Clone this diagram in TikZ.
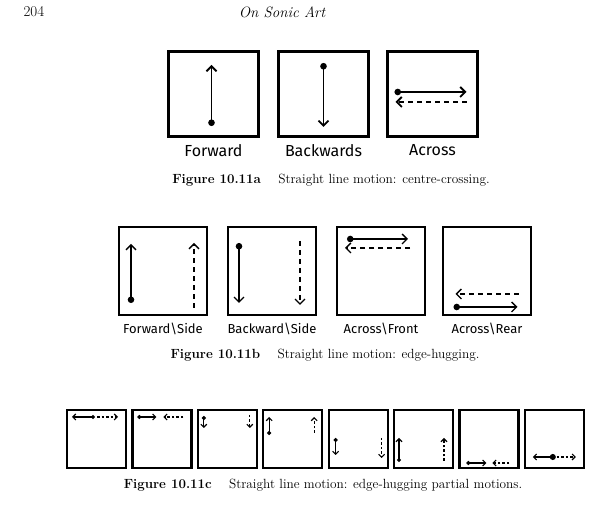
\documentclass[tikz,border=0pt]{standalone}
\usepackage{fontspec}
\newfontfamily\handfont{Fira Sans}
\usetikzlibrary{positioning, arrows.meta, calc}

\begin{document}
\begin{tikzpicture}[x=1pt, y=1pt, font=\fontsize{13.3}{15}\selectfont,
    bigbox/.style={draw, line width=2.8pt, minimum width=90pt, minimum height=85pt,
                   inner sep=0pt, outer sep=0pt},
    sidebox/.style={draw, line width=2pt, minimum width=88pt, minimum height=88pt,
                    inner sep=0pt, outer sep=0pt},
    smallbox/.style={draw, line width=2.2pt, minimum width=59pt, minimum height=58pt,
                     inner sep=0pt, outer sep=0pt},
    hand/.style={font=\handfont\fontsize{13}{15}\selectfont, inner sep=0pt},
    dotmv/.style={line width=1.8pt, arrows={Circle[length=6.5pt]-Straight Barb[length=5pt, width=10pt]}},
    backmv/.style={line width=1.8pt, dash pattern=on 5pt off 4pt, -{Straight Barb[length=5pt, width=10pt]}},
    sdotmv/.style={line width=1.1pt, arrows={Circle[length=4pt]-Straight Barb[length=3pt, width=6pt]}},
    sbackmv/.style={line width=1.1pt, dash pattern=on 2.5pt off 2pt, -{Straight Barb[length=3pt, width=6pt]}}]
  \useasboundingbox (0,0) rectangle (614,505);

  % running head
  \node[anchor=west, font=\fontsize{15}{17}\selectfont] (page) at (20,493) {204};
  \node[font=\fontsize{15}{17}\selectfont\itshape] (title) at (282,493) {On Sonic Art};

  % 10.11a
  \node[bigbox] (fa) at (213.5,411) {};
  \node[bigbox, right=20pt of fa] (fb) {};
  \node[bigbox, right=19pt of fb] (fc) {};
  \draw[dotmv] ([shift={(-2,-32)}]fa.center) -- ([shift={(-2,29)}]fa.center);
  \draw[dotmv] ([shift={(0,31)}]fb.center) -- ([shift={(0,-33)}]fb.center);
  \draw[dotmv] ([shift={(-38,2)}]fc.center) -- ([shift={(34,2)}]fc.center);
  \draw[backmv] ([shift={(34,-8)}]fc.center) -- ([shift={(-37,-8)}]fc.center);
  \node[hand, below=8pt of fa, font=\handfont\fontsize{16}{18}\selectfont] (la) {Forward};
  \node[hand, below=8pt of fb, font=\handfont\fontsize{16}{18}\selectfont] (lb) {Backwards};
  \node[hand, below=8pt of fc, font=\handfont\fontsize{16}{18}\selectfont] (lc) {Across};
  \node (capa) at (331,325) {\textbf{Figure 10.11a}\hspace{1.3em}Straight line motion: centre-crossing.};

  % 10.11b
  \node[sidebox] (sa) at (163,233.5) {};
  \node[sidebox, right=21pt of sa] (sb) {};
  \node[sidebox, right=21pt of sb] (sc) {};
  \node[sidebox, right=18pt of sc] (sd) {};
  \draw[dotmv, line width=1.3pt] ([shift={(-32,-31.5)}]sa.center) -- ([shift={(-32,27.5)}]sa.center);
  \draw[backmv, line width=1.3pt] ([shift={(31,-36.5)}]sa.center) -- ([shift={(31,28.5)}]sa.center);
  \draw[dotmv, line width=1.3pt] ([shift={(-33,28.5)}]sb.center) -- ([shift={(-33,-31.5)}]sb.center);
  \draw[backmv, line width=1.3pt] ([shift={(28,30.5)}]sb.center) -- ([shift={(28,-33.5)}]sb.center);
  \draw[dotmv, line width=1.3pt] ([shift={(-34,32.5)}]sc.center) -- ([shift={(27,32.5)}]sc.center);
  \draw[backmv, line width=1.3pt] ([shift={(29,23.5)}]sc.center) -- ([shift={(-36,23.5)}]sc.center);
  \draw[backmv, line width=1.3pt] ([shift={(31.5,-22.5)}]sd.center) -- ([shift={(-31.5,-22.5)}]sd.center);
  \draw[dotmv, line width=1.3pt] ([shift={(-33.5,-35.5)}]sd.center) -- ([shift={(30.5,-35.5)}]sd.center);
  \node[hand, below=7pt of sa] (lsa) {Forward\textbackslash Side};
  \node[hand, below=7pt of sb] (lsb) {Backward\textbackslash Side};
  \node[hand, below=7pt of sc] (lsc) {Across\textbackslash Front};
  \node[hand, below=7pt of sd] (lsd) {Across\textbackslash Rear};
  \node (capb) at (325,150) {\textbf{Figure 10.11b}\hspace{1.3em}Straight line motion: edge-hugging.};

  % 10.11c
  \node[smallbox] (pa) at (96.5,66) {};
  \node[smallbox, right=6.4pt of pa] (pb) {};
  \node[smallbox, right=6.4pt of pb] (pc) {};
  \node[smallbox, right=6.4pt of pc] (pd) {};
  \node[smallbox, right=6.4pt of pd] (pe) {};
  \node[smallbox, right=6.4pt of pe] (pf) {};
  \node[smallbox, right=6.4pt of pf] (pg) {};
  \node[smallbox, right=6.4pt of pg] (ph) {};
  \draw[sdotmv] ([shift={(28,-7)}]pa.north west) -- ([shift={(5,-7)}]pa.north west);
  \draw[sbackmv] ([shift={(30,-7)}]pa.north west) -- ([shift={(51,-7)}]pa.north west);
  \draw[sdotmv] ([shift={(5,-7)}]pb.north west) -- ([shift={(24,-7)}]pb.north west);
  \draw[sbackmv] ([shift={(51,-7)}]pb.north west) -- ([shift={(31,-7)}]pb.north west);
  \draw[sdotmv] ([shift={(6,-6)}]pc.north west) -- ([shift={(6,-18)}]pc.north west);
  \draw[sbackmv] ([shift={(52,-5)}]pc.north west) -- ([shift={(52,-18)}]pc.north west);
  \draw[sdotmv] ([shift={(6,-25)}]pd.north west) -- ([shift={(6,-7)}]pd.north west);
  \draw[sbackmv] ([shift={(51,-23)}]pd.north west) -- ([shift={(51,-7)}]pd.north west);
  \draw[sdotmv] ([shift={(7,-28)}]pe.north west) -- ([shift={(7,-45)}]pe.north west);
  \draw[sbackmv] ([shift={(53,-28)}]pe.north west) -- ([shift={(53,-48)}]pe.north west);
  \draw[sdotmv] ([shift={(5,-52)}]pf.north west) -- ([shift={(5,-28)}]pf.north west);
  \draw[sbackmv] ([shift={(50,-51)}]pf.north west) -- ([shift={(50,-28)}]pf.north west);
  \draw[sdotmv] ([shift={(7,-53)}]pg.north west) -- ([shift={(27,-53)}]pg.north west);
  \draw[sbackmv] ([shift={(50,-53)}]pg.north west) -- ([shift={(33,-53)}]pg.north west);
  \draw[sdotmv, arrows={Circle[length=6pt]-Straight Barb[length=3pt, width=6pt]}]
    ([shift={(31,-47)}]ph.north west) -- ([shift={(8,-47)}]ph.north west);
  \draw[sbackmv] ([shift={(32,-47)}]ph.north west) -- ([shift={(51,-47)}]ph.north west);
  \node (capc) at (323,20) {\textbf{Figure 10.11c}\hspace{1.3em}Straight line motion: edge-hugging partial motions.};
\end{tikzpicture}
\end{document}
